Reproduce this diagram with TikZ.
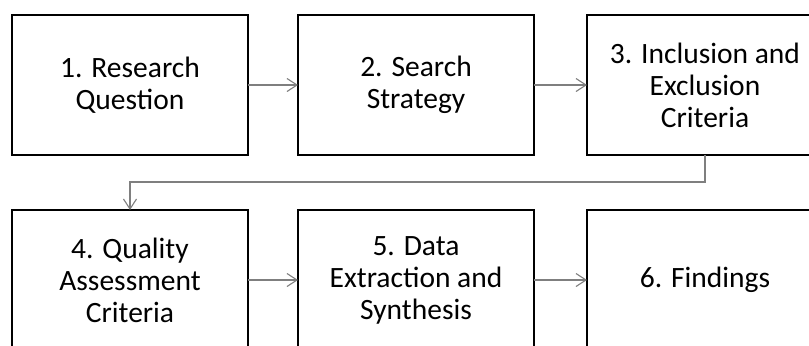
\documentclass[tikz,border=0pt]{standalone}
\usepackage{fontspec}
\setmainfont{Carlito}
\usetikzlibrary{arrows.meta}
\definecolor{linkgray}{HTML}{7F7F7F}
\tikzset{
  stepbox/.style={draw=black, line width=2.2bp, fill=white, minimum width=236bp, minimum height=140bp,
    align=center, outer sep=0pt, inner sep=2bp, text=black,
    font=\fontsize{29.5bp}{32bp}\selectfont},
  link/.style={draw=linkgray, line width=1.1bp, -{Straight Barb[length=10bp,width=13bp,line width=1.1bp]}}
}
\begin{document}
\begin{tikzpicture}[x=1bp,y=1bp]
\useasboundingbox (0,0) rectangle (809,-345);
\clip (0,0) rectangle (809,-345);
\fill[white] (0,0) rectangle (809,-345);
\node[stepbox] (b1) at (130,-85) {1. Research\\Question};
\node[stepbox] (b2) at (416,-85) {2. Search\\Strategy};
\node[stepbox] (b3) at (705,-85) {3. Inclusion and\\Exclusion\\Criteria};
\node[stepbox] (b4) at (130,-280) {4. Quality\\Assessment\\Criteria};
\node[stepbox] (b5) at (416,-280) {5. Data\\Extraction and\\Synthesis};
\node[stepbox] (b6) at (705,-280) {6. Findings};
\coordinate (m) at (130,-182);
\draw[link] (b1) -- (b2);
\draw[link] (b2) -- (b3);
\draw[link] (b3.south) |- (m) -- (b4.north);
\draw[link] (b4) -- (b5);
\draw[link] (b5) -- (b6);
\end{tikzpicture}
\end{document}
